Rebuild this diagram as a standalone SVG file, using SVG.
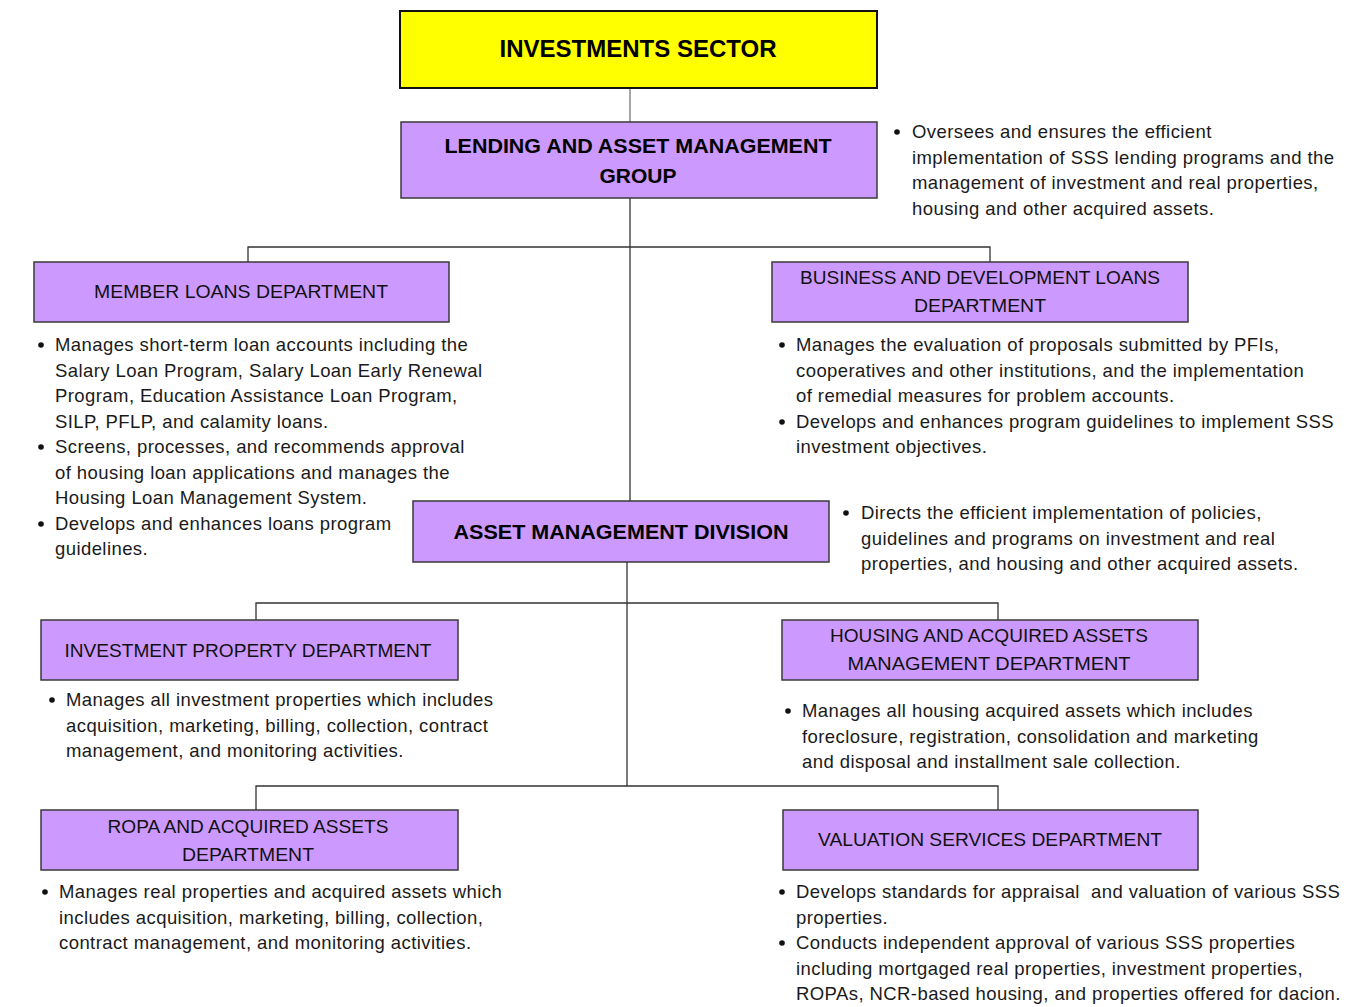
<svg xmlns="http://www.w3.org/2000/svg" width="1351" height="1007" viewBox="0 0 1351 1007">
<style>
.box{fill:#CC99FF;stroke:#3a3a3a;stroke-width:1.5}
.ttl{font-family:"Liberation Sans",Arial,sans-serif;font-size:17.5px;fill:#111;text-anchor:middle}
.bt{font-family:"Liberation Sans",Arial,sans-serif;font-size:19.5px;font-weight:bold;fill:#000;text-anchor:middle}
.d{font-family:"Liberation Sans",Arial,sans-serif;font-size:18.5px;letter-spacing:0.42px;fill:#1a1a1a}
.dot{fill:#111}
.ln{stroke:#333;stroke-width:1.3;fill:none}
</style>
<rect width="1351" height="1007" fill="#fff"/>
<g id="connectors">
<line class="ln" x1="630" y1="88" x2="630" y2="122" style="stroke:#777"/>
<line class="ln" x1="630" y1="198" x2="630" y2="501"/>
<polyline class="ln" points="248,262 248,247 990,247 990,262"/>
<line class="ln" x1="627" y1="562" x2="627" y2="786"/>
<polyline class="ln" points="256,620 256,603 998,603 998,620"/>
<polyline class="ln" points="256,810 256,786 998,786 998,810"/>
</g>
<g id="investments-sector">
<rect x="400" y="11" width="477" height="77" fill="#FFFF00" stroke="#111" stroke-width="2"/>
<text class="bt" x="638" y="57" style="font-size:23px" textLength="277" lengthAdjust="spacingAndGlyphs">INVESTMENTS SECTOR</text>
</g>
<g id="lending-group">
<rect class="box" x="401" y="122" width="476" height="76"/>
<text class="bt" x="638" y="153" textLength="387" lengthAdjust="spacingAndGlyphs">LENDING AND ASSET MANAGEMENT</text>
<text class="bt" x="638" y="183" textLength="77" lengthAdjust="spacingAndGlyphs">GROUP</text>
</g>
<g id="lending-desc">
<circle class="dot" cx="897" cy="132" r="2.8"/>
<text class="d"><tspan x="912" y="138">Oversees and ensures the efficient</tspan><tspan x="912" y="163.5">implementation of SSS lending programs and the</tspan><tspan x="912" y="189">management of investment and real properties,</tspan><tspan x="912" y="214.5">housing and other acquired assets.</tspan></text>
</g>
<g id="member-loans">
<rect class="box" x="34" y="262" width="415" height="60"/>
<text class="ttl" x="241" y="298" textLength="294" lengthAdjust="spacingAndGlyphs">MEMBER LOANS DEPARTMENT</text>
</g>
<g id="member-loans-desc">
<circle class="dot" cx="41" cy="345" r="2.8"/>
<circle class="dot" cx="41" cy="447" r="2.8"/>
<circle class="dot" cx="41" cy="524" r="2.8"/>
<text class="d"><tspan x="55" y="351">Manages short-term loan accounts including the</tspan><tspan x="55" y="377">Salary Loan Program, Salary Loan Early Renewal</tspan><tspan x="55" y="402">Program, Education Assistance Loan Program,</tspan><tspan x="55" y="428">SILP, PFLP, and calamity loans.</tspan><tspan x="55" y="453">Screens, processes, and recommends approval</tspan><tspan x="55" y="479">of housing loan applications and manages the</tspan><tspan x="55" y="504">Housing Loan Management System.</tspan><tspan x="55" y="530">Develops and enhances loans program</tspan><tspan x="55" y="555">guidelines.</tspan></text>
</g>
<g id="business-loans">
<rect class="box" x="772" y="262" width="416" height="60"/>
<text class="ttl" x="980" y="284" textLength="360" lengthAdjust="spacingAndGlyphs">BUSINESS AND DEVELOPMENT LOANS</text>
<text class="ttl" x="980" y="312" textLength="132" lengthAdjust="spacingAndGlyphs">DEPARTMENT</text>
</g>
<g id="business-loans-desc">
<circle class="dot" cx="782" cy="345" r="2.8"/>
<circle class="dot" cx="782" cy="422" r="2.8"/>
<text class="d"><tspan x="796" y="351">Manages the evaluation of proposals submitted by PFIs,</tspan><tspan x="796" y="377">cooperatives and other institutions, and the implementation</tspan><tspan x="796" y="402">of remedial measures for problem accounts.</tspan><tspan x="796" y="428">Develops and enhances program guidelines to implement SSS</tspan><tspan x="796" y="453">investment objectives.</tspan></text>
</g>
<g id="asset-management-division">
<rect class="box" x="413" y="501" width="416" height="61"/>
<text class="bt" x="621" y="539" textLength="335" lengthAdjust="spacingAndGlyphs">ASSET MANAGEMENT DIVISION</text>
</g>
<g id="asset-desc">
<circle class="dot" cx="846" cy="513" r="2.8"/>
<text class="d"><tspan x="861" y="519">Directs the efficient implementation of policies,</tspan><tspan x="861" y="544.5">guidelines and programs on investment and real</tspan><tspan x="861" y="570">properties, and housing and other acquired assets.</tspan></text>
</g>
<g id="investment-property">
<rect class="box" x="41" y="620" width="417" height="60"/>
<text class="ttl" x="248" y="657" textLength="367" lengthAdjust="spacingAndGlyphs">INVESTMENT PROPERTY DEPARTMENT</text>
</g>
<g id="investment-property-desc">
<circle class="dot" cx="52" cy="700" r="2.8"/>
<text class="d"><tspan x="66" y="706">Manages all investment properties which includes</tspan><tspan x="66" y="731.5">acquisition, marketing, billing, collection, contract</tspan><tspan x="66" y="757">management, and monitoring activities.</tspan></text>
</g>
<g id="housing-acquired">
<rect class="box" x="782" y="620" width="416" height="60"/>
<text class="ttl" x="989" y="642" textLength="318" lengthAdjust="spacingAndGlyphs">HOUSING AND ACQUIRED ASSETS</text>
<text class="ttl" x="989" y="670" textLength="283" lengthAdjust="spacingAndGlyphs">MANAGEMENT DEPARTMENT</text>
</g>
<g id="housing-desc">
<circle class="dot" cx="788" cy="711" r="2.8"/>
<text class="d"><tspan x="802" y="717">Manages all housing acquired assets which includes</tspan><tspan x="802" y="742.5">foreclosure, registration, consolidation and marketing</tspan><tspan x="802" y="768">and disposal and installment sale collection.</tspan></text>
</g>
<g id="ropa">
<rect class="box" x="41" y="810" width="417" height="60"/>
<text class="ttl" x="248" y="833" textLength="281" lengthAdjust="spacingAndGlyphs">ROPA AND ACQUIRED ASSETS</text>
<text class="ttl" x="248" y="861" textLength="132" lengthAdjust="spacingAndGlyphs">DEPARTMENT</text>
</g>
<g id="ropa-desc">
<circle class="dot" cx="45" cy="892" r="2.8"/>
<text class="d"><tspan x="59" y="898">Manages real properties and acquired assets which</tspan><tspan x="59" y="923.5">includes acquisition, marketing, billing, collection,</tspan><tspan x="59" y="949">contract management, and monitoring activities.</tspan></text>
</g>
<g id="valuation">
<rect class="box" x="783" y="810" width="415" height="60"/>
<text class="ttl" x="990" y="846" textLength="344" lengthAdjust="spacingAndGlyphs">VALUATION SERVICES DEPARTMENT</text>
</g>
<g id="valuation-desc">
<circle class="dot" cx="782" cy="892" r="2.8"/>
<circle class="dot" cx="782" cy="943" r="2.8"/>
<text class="d" xml:space="preserve"><tspan x="796" y="898">Develops standards for appraisal  and valuation of various SSS</tspan><tspan x="796" y="923.5">properties.</tspan><tspan x="796" y="949">Conducts independent approval of various SSS properties</tspan><tspan x="796" y="974.5">including mortgaged real properties, investment properties,</tspan><tspan x="796" y="1000">ROPAs, NCR-based housing, and properties offered for dacion.</tspan></text>
</g>
</svg>
